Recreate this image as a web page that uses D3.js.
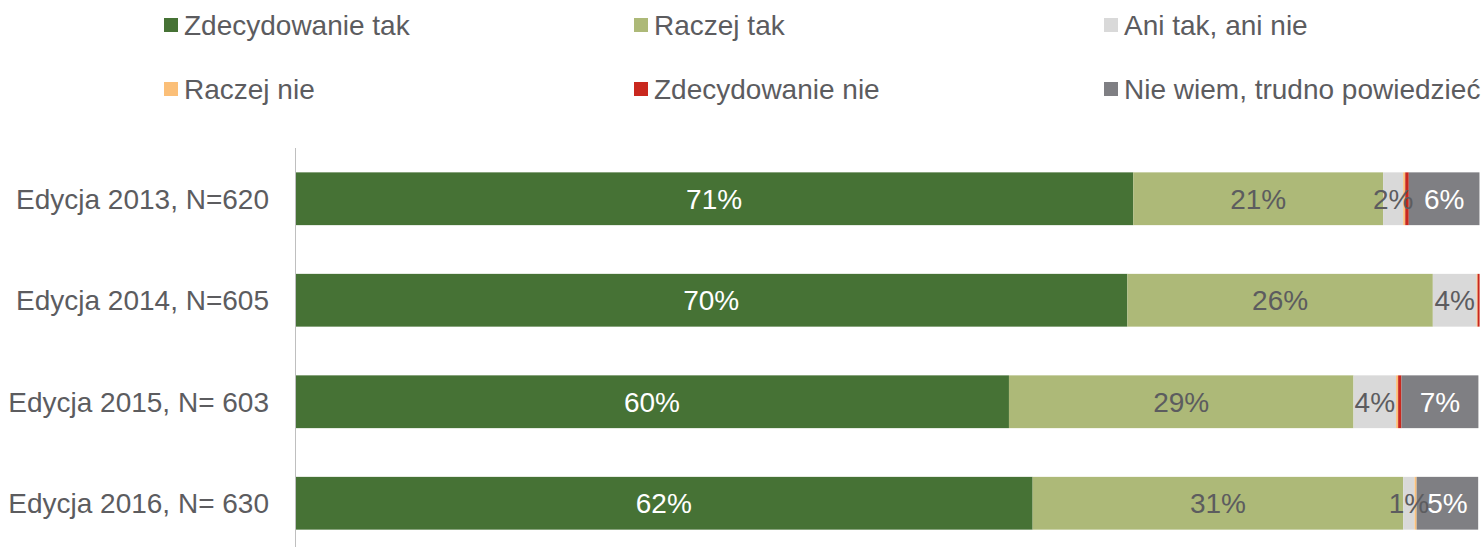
<!DOCTYPE html>
<html>
<head>
<meta charset="utf-8">
<script src="https://cdn.jsdelivr.net/npm/d3@7"></script>
<style>
  body { margin: 0; background: #fff; }
  text { font-family: "Liberation Sans", Arial, sans-serif; }
</style>
</head>
<body>
<script>
var width = 1484,
    height = 547;

// data (percent)
var categories = ["Edycja 2013, N=620", "Edycja 2014, N=605", "Edycja 2015, N= 603", "Edycja 2016, N= 630"];
var seriesNames = ["Zdecydowanie tak", "Raczej tak", "Ani tak, ani nie", "Raczej nie", "Zdecydowanie nie", "Nie wiem, trudno powiedzieć"];
var zdecydowanieTak = [70.8, 70.3, 60.3, 62.3];
var raczejTak = [21.1, 25.8, 29.1, 31.3];
var aniTakAniNie = [1.7, 3.7, 3.6, 0.96];
var raczejNie = [0.17, 0.08, 0.17, 0.17];
var zdecydowanieNie = [0.3, 0.17, 0.28, 0];
var nieWiem = [5.97, 0, 6.5, 5.2];
var seriesValues = [zdecydowanieTak, raczejTak, aniTakAniNie, raczejNie, zdecydowanieNie, nieWiem];
var colors = ["#467235", "#adb978", "#d9d9d9", "#fbbf78", "#c9281e", "#7f7f83"];
var labelColors = ["#ffffff", "#5c5c5f", "#5c5c5f", "#5c5c5f", "#5c5c5f", "#ffffff"];

var svg = d3.select("body").append("svg")
    .attr("width", width)
    .attr("height", height);

var x = d3.scaleLinear()
    .domain([0, 100])
    .range([295, 1479]);

var y = d3.scaleBand()
    .domain(categories)
    .range([148, 554])
    .paddingInner(0.48)
    .paddingOuter(0.24);

// build stacked rows
var rows = categories.map(function(c, i) {
  var row = { cat: c };
  seriesNames.forEach(function(s, j) { row[s] = seriesValues[j][i]; });
  return row;
});
var stack = d3.stack().keys(seriesNames)(rows);

var layers = svg.append("g")
  .selectAll("g")
    .data(stack)
  .enter().append("g")
    .attr("fill", function(d, i) { return colors[i]; });

layers.selectAll("rect")
    .data(function(d) { return d; })
  .enter().append("rect")
    .attr("x", function(d) { return x(d[0]); })
    .attr("y", function(d) { return y(d.data.cat); })
    .attr("width", function(d) { return Math.max(0, x(d[1]) - x(d[0])); })
    .attr("height", y.bandwidth());

// value labels on top of all bars, only when they round to at least 1%
var labelGroup = svg.append("g");
stack.forEach(function(layer, i) {
  labelGroup.append("g").selectAll("text")
      .data(layer.filter(function(d) { return Math.round(d[1] - d[0]) >= 1; }))
    .enter().append("text")
      .attr("x", function(d) { return (x(d[0]) + x(d[1])) / 2; })
      .attr("y", function(d) { return y(d.data.cat) + y.bandwidth() / 2; })
      .attr("dy", ".35em")
      .attr("text-anchor", "middle")
      .attr("fill", labelColors[i])
      .style("font-size", "28px")
      .text(function(d) { return Math.round(d[1] - d[0]) + "%"; });
});

// category axis
svg.append("line")
    .attr("x1", 295.5).attr("x2", 295.5)
    .attr("y1", 148).attr("y2", height)
    .attr("stroke", "#bfbfbf")
    .attr("stroke-width", 1);

svg.append("g")
  .selectAll("text")
    .data(categories)
  .enter().append("text")
    .attr("x", 269)
    .attr("y", function(d) { return y(d) + y.bandwidth() / 2; })
    .attr("dy", ".35em")
    .attr("text-anchor", "end")
    .attr("fill", "#5c5c5f")
    .style("font-size", "28px")
    .text(function(d) { return d; });

// legend, 3 columns x 2 rows
var legend = svg.append("g")
  .selectAll("g")
    .data(seriesNames)
  .enter().append("g")
    .attr("transform", function(d, i) {
      return "translate(" + (164 + (i % 3) * 470) + "," + (18 + Math.floor(i / 3) * 64) + ")";
    });

legend.append("rect")
    .attr("width", 14)
    .attr("height", 14)
    .attr("fill", function(d, i) { return colors[i]; });

legend.append("text")
    .attr("x", 20)
    .attr("y", 7)
    .attr("dy", ".35em")
    .attr("fill", "#5c5c5f")
    .style("font-size", "28px")
    .text(function(d) { return d; });
</script>
</body>
</html>
